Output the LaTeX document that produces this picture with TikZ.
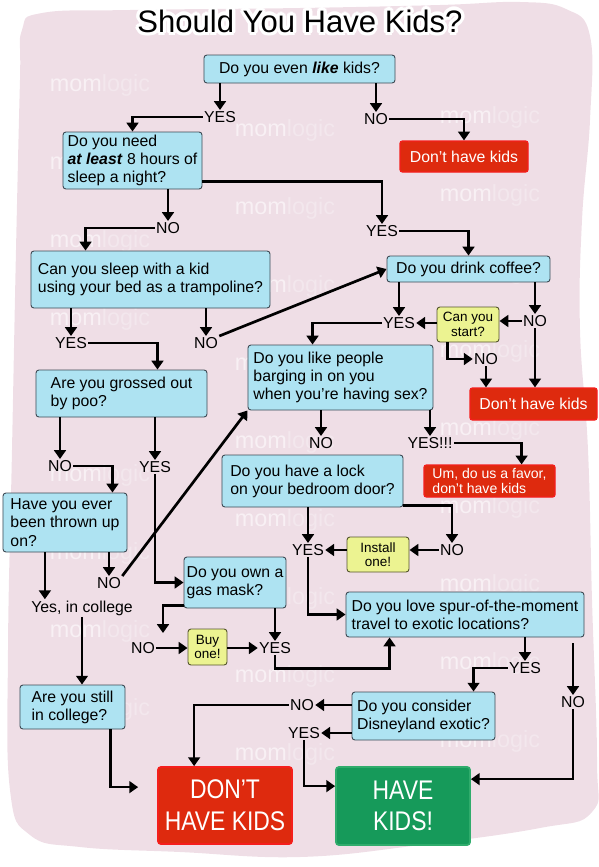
\documentclass[tikz,border=0pt]{standalone}
\usepackage{fontspec}
\setmainfont{Liberation Sans}
\newfontfamily\bigfont{Liberation Sans}[FakeStretch=0.85]
\usetikzlibrary{arrows.meta, calc}
\definecolor{BgP}{RGB}{239,222,230}
\definecolor{QB}{RGB}{174,227,242}
\definecolor{QE}{RGB}{62,74,84}
\definecolor{YL}{RGB}{236,243,145}
\definecolor{YE}{RGB}{85,85,45}
\definecolor{RD}{RGB}{222,42,14}
\definecolor{RE}{RGB}{245,30,28}
\definecolor{GN}{RGB}{22,154,90}
\definecolor{GE}{RGB}{48,172,108}
\definecolor{WA}{RGB}{248,240,244}
\definecolor{WB}{RGB}{243,231,237}
\newcommand\fsz[2]{\fontsize{#1}{#2}\selectfont}

\begin{document}
\begin{tikzpicture}[x=0.03cm, y=-0.03cm,
  qbox/.style={draw=QE, fill=QB, line width=0.8pt, rounded corners=2.5pt,
               align=left, inner xsep=2pt, inner ysep=1pt, font=\fsz{13.5pt}{15.5pt}},
  tipbox/.style={draw=YE, fill=YL, line width=0.8pt, rounded corners=2.5pt,
                 align=center, inner sep=1pt, font=\fsz{11.5pt}{12.5pt}},
  nobox/.style={draw=RE, fill=RD, line width=1pt, rounded corners=2pt, text=white,
                align=left, inner sep=1pt, font=\fsz{13.5pt}{14pt}},
  endbox/.style={line width=1.5pt, rounded corners=2.5pt, text=white, align=center,
                 font=\bigfont\fsz{23pt}{27pt}},
  lbl/.style={inner sep=1pt, font=\fsz{13.5pt}{15pt}},
  ttl/.style={inner sep=0pt, font=\fsz{26.5pt}{28pt}},
  wm/.style={inner sep=0pt, font=\fsz{20pt}{20pt}},
  arr/.style={-{Triangle[length=7.5pt,width=10pt]}, line width=2.3pt}
]
\useasboundingbox (0,0) rectangle (599,867);

\fill[BgP] plot[smooth cycle, tension=0.7] coordinates {
  (22,30) (42,13) (130,10) (300,8) (440,5) (520,2) (566,9) (590,36)
  (590,120) (582,220) (580,330) (588,450) (592,600) (597,760) (592,812)
  (540,828) (420,845) (300,857) (180,852) (80,847) (30,835) (10,790)
  (8,650) (12,450) (16,250) (20,80)};

\foreach \col/\x/\yo in {a/100/85, b/285/130, c/490/117}
  \foreach \k in {0,...,8}
    \node[wm] (wm\col\k) at ({\x},{\yo+78*\k}) {\textcolor{WA}{mom}\textcolor{WB}{logic}};

\foreach \a in {0,30,...,330}
  \node[ttl, text=white] (halo\a) at ([shift={(\a:3.5)}]300,21) {Should You Have Kids?};
\node[ttl] (title) at (300,21) {Should You Have Kids?};

\node[qbox, minimum width=5.73cm, minimum height=0.84cm, align=center] (like) at (299.5,69)
  {Do you even \textbf{\textit{like}} kids?};
\node[lbl] (yesA) at (220,117) {YES};
\node[lbl] (noA) at (376,119) {NO};
\node[nobox, minimum width=3.84cm, minimum height=0.93cm, align=center] (dont1) at (464,156.5)
  {Don’t have kids};

\node[qbox, minimum width=4.17cm, minimum height=1.71cm] (needsleep) at (132.5,160.5)
  {Do you need\\\textbf{\textit{at least}} 8 hours of\\sleep a night?};
\node[lbl] (noB) at (168,228) {NO};
\node[lbl] (yesB) at (382,231) {YES};

\node[qbox, minimum width=7.17cm, minimum height=1.71cm] (trampoline) at (150.5,279.5)
  {Can you sleep with a kid\\using your bed as a trampoline?};
\node[qbox, minimum width=4.89cm, minimum height=0.78cm, align=center] (coffee) at (468.5,269)
  {Do you drink coffee?};
\node[lbl] (yesC) at (71,343) {YES};
\node[lbl] (noC) at (206,343) {NO};
\node[lbl] (yesD) at (399,323) {YES};
\node[lbl] (noD) at (535,321) {NO};
\node[tipbox, minimum width=1.86cm, minimum height=1.05cm] (start) at (468,324.5) {Can you\\start?};
\node[lbl] (noY) at (486,359) {NO};
\node[nobox, minimum width=3.81cm, minimum height=0.96cm, align=center] (dont2) at (533.5,404)
  {Don’t have kids};

\node[qbox, minimum width=5.55cm, minimum height=1.95cm] (people) at (340.5,377.5)
  {Do you like people\\barging in on you\\when you’re having sex?};
\node[lbl] (noF) at (321,443) {NO};
\node[lbl] (yesF) at (430,443) {YES!!!};
\node[nobox, minimum width=3.93cm, minimum height=0.96cm, font=\fsz{12pt}{13pt}] (favor) at (489.5,481)
  {Um, do us a favor,\\don’t have kids};

\node[qbox, minimum width=5.13cm, minimum height=1.41cm] (poo) at (121.5,393.5)
  {Are you grossed out\\by poo?};
\node[lbl] (noE) at (60,466) {NO};
\node[lbl] (yesE) at (155,467) {YES};

\node[qbox, minimum width=5.43cm, minimum height=1.56cm] (lock) at (312.5,481)
  {Do you have a lock\\on your bedroom door?};
\node[lbl] (yesG) at (308,550) {YES};
\node[lbl] (noG) at (452,550) {NO};
\node[tipbox, minimum width=1.86cm, minimum height=1.05cm] (install) at (378,554.5) {Install\\one!};

\node[qbox, minimum width=3.72cm, minimum height=1.77cm] (thrown) at (65,522.5)
  {Have you ever\\been thrown up\\on?};
\node[lbl] (noH) at (109,583) {NO};
\node[lbl] (yesH) at (82,608) {Yes, in college};

\node[qbox, minimum width=3.06cm, minimum height=1.53cm] (gasmask) at (235,582.5)
  {Do you own a\\gas mask?};
\node[lbl] (noI) at (143,648) {NO};
\node[tipbox, minimum width=1.17cm, minimum height=1.08cm] (buy) at (207.5,647) {Buy\\one!};
\node[lbl] (yesI) at (275,648) {YES};
\coordinate (gasNo) at (163,633);

\node[qbox, minimum width=7.14cm, minimum height=1.35cm] (travel) at (465,614.5)
  {Do you love spur-of-the-moment\\travel to exotic locations?};
\node[lbl] (yesK) at (525,668) {YES};
\node[lbl] (noK) at (573,702) {NO};
\node[qbox, minimum width=4.29cm, minimum height=1.44cm] (disney) at (423.5,716)
  {Do you consider\\Disneyland exotic?};
\node[lbl] (noL) at (302,705) {NO};
\node[lbl] (yesL) at (304,733) {YES};

\node[qbox, minimum width=3.15cm, minimum height=1.32cm] (college) at (72.5,707)
  {Are you still\\in college?};
\node[endbox, draw=RE, fill=RD, minimum width=4.02cm, minimum height=2.31cm] (dont) at (225,805.5)
  {DON’T\\HAVE KIDS};
\node[endbox, draw=GE, fill=GN, minimum width=4.02cm, minimum height=2.34cm] (have) at (403,806)
  {HAVE\\KIDS!};

% top
\draw[arr] (like.south -| yesA) -- (yesA.north);
\draw[arr] (yesA.west) -| (needsleep.north);
\draw[arr] (like.south -| noA) -- (noA.north);
\draw[arr] (noA.east) -| (dont1.north);

\draw[arr] (needsleep.south -| noB) -- (noB.north);
\draw[arr] (noB.west) -| ($(trampoline.north west)+(55,0)$);
\draw[arr] ($(needsleep.south east)+(0,-8)$) -| (yesB.north);
\draw[arr] (yesB.east) -| (coffee.north);

\draw[arr] (trampoline.south -| yesC) -- (yesC.north);
\draw[arr] (yesC.east) -| ($(poo.north east)+(-50,0)$);
\draw[arr] (trampoline.south -| noC) -- (noC.north);
\draw[arr] (noC.north east) -- (coffee.west);

% coffee
\draw[arr] (coffee.south -| yesD) -- (yesD.north);
\draw[arr] (coffee.south -| noD) -- (noD.north);
\draw[arr] (noD.west) -- (noD.west -| start.east);
\draw[arr] (start.west |- yesD.east) -- (yesD.east);
\draw[arr] (yesD.west) -| ($(people.north west)+(65,0)$);
\draw[arr] ($(start.south west)+(11,0)$) |- (noY.west);
\draw[arr] (noY.south) -- (noY.south |- dont2.north);
\draw[arr] (noD.south) -- (noD.south |- dont2.north);

\draw[arr] (people.south -| noF) -- (noF.north);
\draw[arr] (people.south -| yesF) -- (yesF.north);
\draw[arr] (yesF.east) -| ($(favor.north east)+(-34,0)$);

% poo
\draw[arr] (poo.south -| noE) -- (noE.north);
\draw[arr] (noE.east) -| ($(thrown.north east)+(-15,0)$);
\draw[arr] (poo.south -| yesE) -- (yesE.north);
\draw[arr] (yesE.south) |- (gasmask.west);

\draw[arr] (thrown.south -| noH) -- (noH.north);
\draw[arr] (noH.north east) -- (people.south west);
\coordinate (yesHin) at ($(yesH.north west)+(15,0)$);
\draw[arr] (thrown.south -| yesHin) -- (yesHin);
\draw[arr] (yesH.south) -- (yesH.south |- college.north);
\draw[arr, shorten >=0.57cm] ($(college.south east)+(-15,0)$) |- ($(dont.north west)+(0,21)$);

% lock
\draw[arr] (lock.south -| yesG) -- (yesG.north);
\draw[arr] ($(lock.south east)+(0,-2)$) -| (noG.north);
\draw[arr] (noG.west) -- (noG.west -| install.east);
\draw[arr] (install.west |- yesG.east) -- (yesG.east);
\draw[arr] (yesG.south) |- (travel.west);

% gas mask
\draw[arr] ($(gasmask.south west)+(0,-3)$) -| (gasNo);
\draw[arr] (noI.east) -- (noI.east -| buy.west);
\draw[arr] (buy.east |- yesI.west) -- (yesI.west);
\draw[arr] (gasmask.south -| yesI) -- (yesI.north);
\draw[arr] (yesI.south) |- ($(travel.south west)+(44,31)$) -- ($(travel.south west)+(44,0)$);

% travel
\draw[arr] (travel.south -| yesK) -- (yesK.north);
\draw[arr] (yesK.west) -| ($(disney.north west)+(122,0)$);
\draw[arr, shorten <=0.18cm] (travel.south -| noK) -- (noK.north);
\draw[arr] (noK.south) |- ($(have.north east)+(0,13)$);
\draw[arr] (disney.west |- noL.east) -- (noL.east);
\draw[arr] (disney.west |- yesL.east) -- (yesL.east);
\draw[arr] (noL.west) -| ($(dont.north west)+(37,0)$);
\draw[arr] (yesL.south) |- ($(have.north west)+(0,20)$);
\end{tikzpicture}
\end{document}
